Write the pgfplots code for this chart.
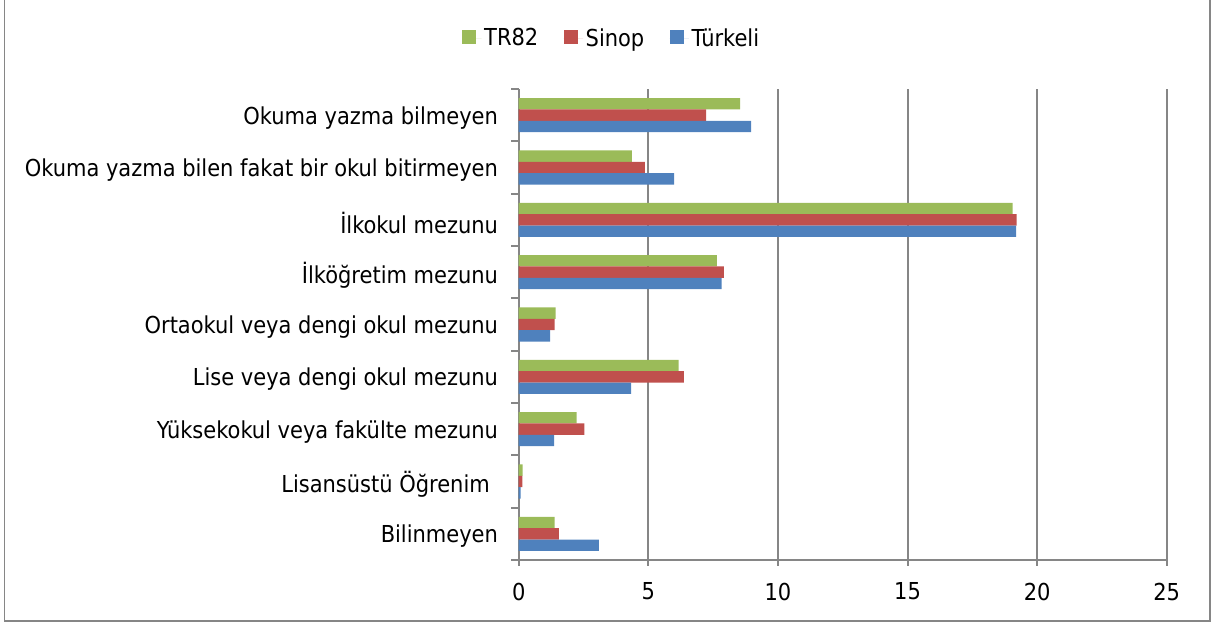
\documentclass[border=0pt]{standalone}
\usepackage{pgfplots}
\usepackage{pgfplotstable}
\pgfplotsset{compat=1.18}
\usepackage{fontspec}
\setmainfont{DejaVu Sans Condensed}
\definecolor{cgreen}{HTML}{9BBB59}
\definecolor{cred}{HTML}{C0504D}
\definecolor{cblue}{HTML}{4F81BD}
\definecolor{cgrid}{HTML}{868686}
\pgfplotstableread{
y TR82 Sinop Turkeli
1 1.39 1.55 3.09
2 0.15 0.14 0.07
3 2.23 2.53 1.37
4 6.17 6.37 4.34
5 1.42 1.39 1.21
6 7.65 7.92 7.83
7 19.06 19.21 19.19
8 4.37 4.87 6.00
9 8.54 7.23 8.97
}\datatable
\begin{document}
\begin{tikzpicture}
\useasboundingbox (0pt,0pt) rectangle (911.25pt,471pt);
\draw[cgrid,line width=1.2pt] (3.375pt,5.25pt) rectangle (907.5pt,480pt);
\begin{axis}[
  at={(389.03pt,51pt)}, anchor=south west,
  scale only axis, width=486pt, height=353.25pt,
  xmin=0, xmax=25, ymin=0.5, ymax=9.5,
  xbar, bar width=0.217,
  axis x line*=bottom, axis y line*=left,
  axis line style={cgrid, line width=1.5pt, -},
  xtick={0,5,...,25},
  ytick={1,...,9},
  yticklabels={Bilinmeyen, Lisansüstü Öğrenim\kern0.35em, Yüksekokul veya fakülte mezunu, Lise veya dengi okul mezunu, Ortaokul veya dengi okul mezunu, İlköğretim mezunu, İlkokul mezunu, Okuma yazma bilen fakat bir okul bitirmeyen, Okuma yazma bilmeyen},
  ytick style={draw=none},
  xtick style={cgrid, line width=1.5pt},
  tick align=outside, major tick length=4.5pt,
  xmajorgrids, major grid style={cgrid, line width=1.5pt},
  ticklabel style={font=\fontsize{17.5}{21}\selectfont, text=black},
  /pgf/number format/assume math mode=true,
  yticklabel style={xshift=-7.5pt, yshift=-2pt},
  xticklabel style={yshift=-9pt},
  clip=false,
  legend columns=3,
  legend style={draw=none, fill=none, at={(0.144,1.108)}, anchor=center,
    font=\fontsize{17.5}{21}\selectfont,
    /tikz/every even column/.append style={column sep=17pt}},
  legend image code/.code={\fill[#1] (0pt,-4.6pt) rectangle (10.5pt,5.9pt); \path (0pt,0pt) -- (14.5pt,0pt);},
]
\addplot[fill=cgreen, draw=none, bar shift=0.217] table[x=TR82, y=y] {\datatable};
\addplot[fill=cred, draw=none, bar shift=0] table[x=Sinop, y=y] {\datatable};
\addplot[fill=cblue, draw=none, bar shift=-0.217] table[x=Turkeli, y=y] {\datatable};
\legend{TR82, Sinop, Türkeli}
\pgfplotsinvokeforeach{0.5,1.5,2.5,3.5,4.5,5.5,6.5,7.5,8.5,9.5}{
  \draw[cgrid, line width=1.5pt] (axis cs:0,#1) -- ++(-6pt,0pt);
}
\end{axis}
\end{tikzpicture}
\end{document}
